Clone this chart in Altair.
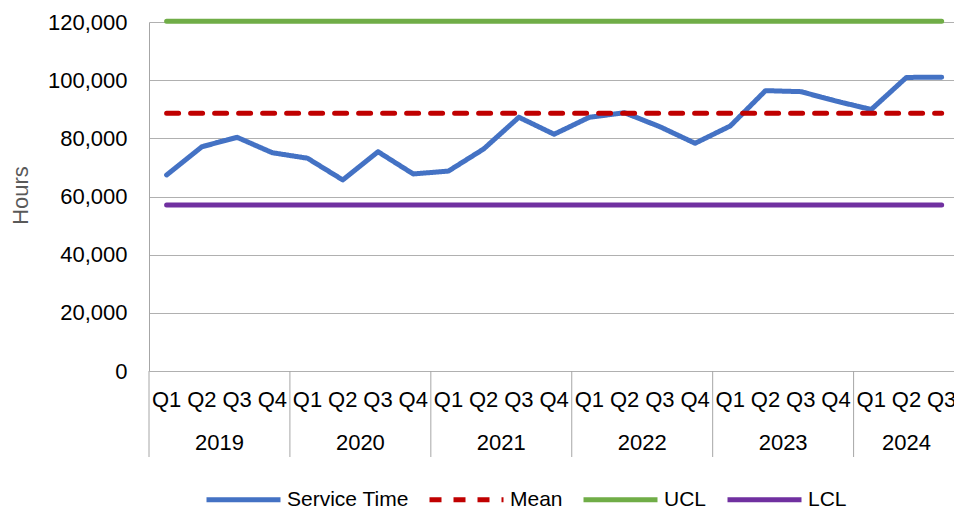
import altair as alt
import pandas as pd

# Quarterly service time (hours) with control limits
years = ["2019", "2020", "2021", "2022", "2023", "2024"]
quarters_per_year = [4, 4, 4, 4, 4, 3]
quarter_labels = ["Q1", "Q2", "Q3", "Q4"]

service_time = [67400, 77100, 80350, 75050, 73150, 65700, 75400, 67750,
                68750, 76350, 87250, 81400, 87250, 88800, 84000, 78300,
                84250, 96400, 96050, 92800, 89900, 100950, 101000]
mean_value = 88600
ucl_value = 120250
lcl_value = 57050

series_names = ["Service Time", "Mean", "UCL", "LCL"]
series_colors = ["#4472C4", "#C00000", "#70AD47", "#7030A0"]
series_dash = [[1, 0], [12, 12], [1, 0], [1, 0]]

FONT = "Liberation Sans"

# Build the long table: one row per quarter per series
rows = []
idx = 0
quarter_rows = []
year_rows = []
bounds = []
for y, n in zip(years, quarters_per_year):
    bounds.append(idx - 0.5)
    year_rows.append({"pos": idx + (n - 1) / 2, "year": y})
    for q in range(n):
        quarter_rows.append({"pos": idx, "q": quarter_labels[q]})
        idx += 1
n_points = idx

for i in range(n_points):
    rows.append({"idx": i, "series": "Service Time", "value": service_time[i]})
for name, v in [("Mean", mean_value), ("UCL", ucl_value), ("LCL", lcl_value)]:
    for i in range(n_points):
        rows.append({"idx": i, "series": name, "value": v})

df = pd.DataFrame(rows)
df_q = pd.DataFrame(quarter_rows)
df_y = pd.DataFrame(year_rows)
df_b = pd.DataFrame({"b": bounds})

W, H = 805, 349
xscale = alt.Scale(domain=[-0.5, n_points - 0.65], nice=False, zero=False)

lines = alt.Chart(df).mark_line(
    strokeWidth=5, strokeCap="round", strokeJoin="round", clip=False
).encode(
    x=alt.X("idx:Q", scale=xscale, axis=None),
    y=alt.Y(
        "value:Q",
        scale=alt.Scale(domain=[0, 120000], nice=False),
        axis=alt.Axis(
            title="Hours",
            values=[0, 20000, 40000, 60000, 80000, 100000, 120000],
            format=",.0f",
            ticks=False,
            labelPadding=22,
            labelFont=FONT,
            labelFontSize=22,
            labelColor="#000000",
            titleFont=FONT,
            titleFontSize=22,
            titleFontWeight="normal",
            titleColor="#595959",
            titleX=-129,
            titleY=173,
            titleAngle=270,
            titleBaseline="middle",
            titleAlign="center",
            domainColor="#A6A6A6",
            domainWidth=1,
            gridColor="#B0B0B0",
            gridWidth=1,
        ),
    ),
    color=alt.Color(
        "series:N",
        scale=alt.Scale(domain=series_names, range=series_colors),
        legend=alt.Legend(title=None),
    ),
    strokeDash=alt.StrokeDash(
        "series:N",
        scale=alt.Scale(domain=series_names, range=series_dash),
        legend=alt.Legend(title=None),
    ),
    order=alt.Order("idx:Q"),
)

separators = alt.Chart(df_b).mark_rule(color="#A6A6A6", strokeWidth=1).encode(
    x=alt.X("b:Q", scale=xscale, axis=None),
    y=alt.value(H),
    y2=alt.value(435),
)

quarter_text = alt.Chart(df_q).mark_text(
    font=FONT, fontSize=22, color="#000000", baseline="middle", align="center"
).encode(
    x=alt.X("pos:Q", scale=xscale, axis=None),
    y=alt.value(378),
    text="q:N",
)

year_text = alt.Chart(df_y).mark_text(
    font=FONT, fontSize=22, color="#000000", baseline="middle", align="center"
).encode(
    x=alt.X("pos:Q", scale=xscale, axis=None),
    y=alt.value(420.5),
    text="year:N",
)

chart = alt.layer(lines, separators, quarter_text, year_text).properties(
    width=W,
    height=H,
    padding={"left": 149, "top": 22, "right": 0, "bottom": 137},
    autosize=alt.AutoSizeParams(type="none"),
    background="#FFFFFF",
).configure_view(
    stroke=None
).configure_legend(
    orient="none",
    legendX=55,
    legendY=438,
    direction="horizontal",
    labelFont=FONT,
    labelFontSize=21,
    labelColor="#000000",
    symbolType="stroke",
    symbolSize=5476,
    symbolStrokeWidth=5,
    labelOffset=4,
    columnPadding=10,
)

chart.save("out.html", embed_options={"renderer": "svg", "actions": False})
